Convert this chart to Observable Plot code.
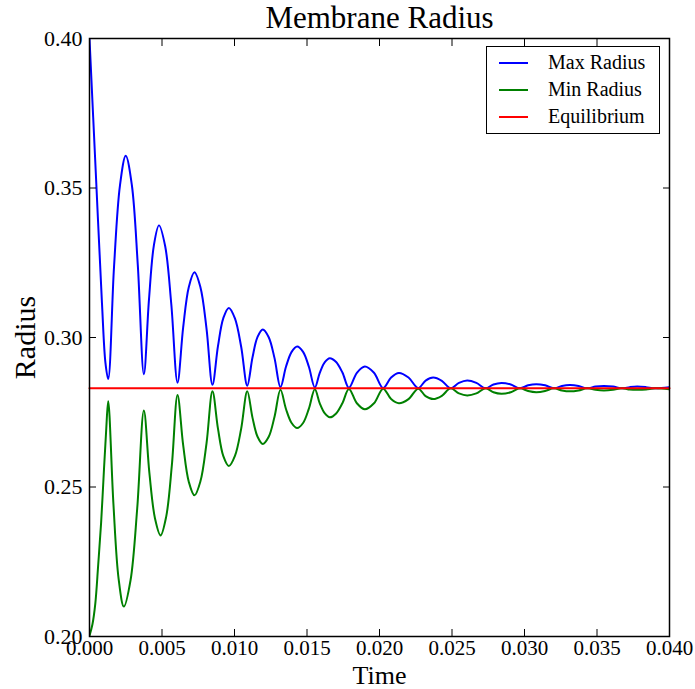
<!DOCTYPE html>
<html>
<head>
<meta charset="utf-8">
<script src="https://cdn.jsdelivr.net/npm/d3@7"></script>
<script src="https://cdn.jsdelivr.net/npm/@observablehq/plot@0.6"></script>
<style>
  body { margin: 0; background: #fff; }
  #chart { position: relative; width: 695px; height: 689px; }
  .legend { position: absolute; left: 486px; top: 46px; width: 172px; height: 84px; border: 1px solid #000; background: #fff;
    font-family: "Liberation Serif", "DejaVu Serif", serif; font-size: 20px; padding-top: 2px; box-sizing: content-box; }
  .legend .row { display: flex; align-items: center; height: 27px; }
  .legend .swatch { width: 29px; height: 2px; margin-left: 12px; margin-right: 20px; }
</style>
</head>
<body>
<div id="chart"></div>
<script>
const FONT = '"Liberation Serif", "DejaVu Serif", serif';
const title = "Membrane Radius";
const xLabel = "Time";
const yLabel = "Radius";
const seriesNames = ["Max Radius", "Min Radius", "Equilibrium"];
const seriesColors = ["#0000ff", "#008000", "#ff0000"];
const xTicks = [0, 0.005, 0.01, 0.015, 0.02, 0.025, 0.03, 0.035, 0.04];
const yTicks = [0.20, 0.25, 0.30, 0.35, 0.40];

// Max radius (time, radius)
const maxT = [0, 0.00043, 0.00086, 0.00110, 0.00129, 0.00169, 0.00210, 0.00250, 0.00292, 0.00333, 0.00375,
  0.00410, 0.00444, 0.00479, 0.00522, 0.00564, 0.00607,
  0.00646, 0.00685, 0.00724, 0.00765, 0.00807, 0.00848,
  0.00886, 0.00923, 0.00961, 0.01003, 0.01046, 0.01088,
  0.01124, 0.01159, 0.01195, 0.01236, 0.01276, 0.01317,
  0.01355, 0.01394, 0.01432, 0.01473, 0.01513, 0.01554,
  0.01588, 0.01623, 0.01657, 0.01701, 0.01745, 0.01789,
  0.01844, 0.01899, 0.01962, 0.02025,
  0.02080, 0.02134, 0.02200, 0.02267,
  0.02318, 0.02370, 0.02430, 0.02490,
  0.02548, 0.02605, 0.02668, 0.02731,
  0.02786, 0.02841, 0.02905, 0.02968,
  0.03025, 0.03081, 0.03142, 0.03202,
  0.03258, 0.03313, 0.03373, 0.03432,
  0.03490, 0.03547, 0.03610, 0.03674,
  0.03726, 0.03777, 0.03838, 0.03900,
  0.04000];
const maxR = [0.4000, 0.3555, 0.3115, 0.2915, 0.2861, 0.3235, 0.3508, 0.3608, 0.3510, 0.3243, 0.2877,
  0.3126, 0.3308, 0.3375, 0.3305, 0.3112, 0.2849,
  0.3034, 0.3169, 0.3218, 0.3168, 0.3030, 0.2842,
  0.2971, 0.3065, 0.3099, 0.3064, 0.2969, 0.2839,
  0.2933, 0.3002, 0.3027, 0.3001, 0.2931, 0.2834,
  0.2902, 0.2952, 0.2970, 0.2952, 0.2902, 0.2833,
  0.2882, 0.2918, 0.2931, 0.2918, 0.2882, 0.2832,
  0.2882, 0.2903, 0.2882, 0.2831,
  0.2866, 0.2881, 0.2866, 0.2831,
  0.2856, 0.2866, 0.2855, 0.2830,
  0.2848, 0.2856, 0.2848, 0.2830,
  0.2843, 0.2848, 0.2843, 0.2830,
  0.2840, 0.2844, 0.2840, 0.2830,
  0.2838, 0.2841, 0.2838, 0.2830,
  0.2836, 0.2838, 0.2836, 0.2830,
  0.2834, 0.2836, 0.2834, 0.2830,
  0.2834];

// Min radius (time, radius)
const minT = [0, 0.00020, 0.00040, 0.00060, 0.00080, 0.00100, 0.00115, 0.00129,
  0.00165, 0.00201, 0.00237, 0.00283, 0.00329, 0.00375,
  0.00413, 0.00452, 0.00490, 0.00529, 0.00568, 0.00607,
  0.00646, 0.00685, 0.00724, 0.00765, 0.00807, 0.00848,
  0.00886, 0.00923, 0.00961, 0.01003, 0.01046, 0.01088,
  0.01124, 0.01159, 0.01195, 0.01236, 0.01276, 0.01317,
  0.01355, 0.01394, 0.01432, 0.01473, 0.01513, 0.01554,
  0.01588, 0.01623, 0.01657, 0.01701, 0.01745, 0.01789,
  0.01844, 0.01899, 0.01962, 0.02025,
  0.02080, 0.02134, 0.02200, 0.02267,
  0.02318, 0.02370, 0.02430, 0.02490,
  0.02548, 0.02605, 0.02668, 0.02731,
  0.02786, 0.02841, 0.02905, 0.02968,
  0.03025, 0.03081, 0.03142, 0.03202,
  0.03258, 0.03313, 0.03373, 0.03432,
  0.03490, 0.03547, 0.03610, 0.03674,
  0.03726, 0.03777, 0.03838, 0.03900,
  0.04000];
const minR = [0.2003, 0.2040, 0.2110, 0.2240, 0.2380, 0.2560, 0.2690, 0.2787,
  0.2443, 0.2192, 0.2100, 0.2188, 0.2428, 0.2756,
  0.2547, 0.2394, 0.2338, 0.2401, 0.2573, 0.2808,
  0.2640, 0.2517, 0.2472, 0.2519, 0.2646, 0.2820,
  0.2695, 0.2603, 0.2570, 0.2604, 0.2695, 0.2820,
  0.2732, 0.2668, 0.2644, 0.2668, 0.2735, 0.2825,
  0.2761, 0.2714, 0.2697, 0.2714, 0.2762, 0.2827,
  0.2780, 0.2746, 0.2733, 0.2746, 0.2781, 0.2828,
  0.2780, 0.2760, 0.2780, 0.2829,
  0.2794, 0.2780, 0.2794, 0.2829,
  0.2804, 0.2794, 0.2805, 0.2830,
  0.2813, 0.2806, 0.2813, 0.2830,
  0.2817, 0.2812, 0.2817, 0.2830,
  0.2821, 0.2817, 0.2821, 0.2830,
  0.2823, 0.2820, 0.2823, 0.2830,
  0.2825, 0.2823, 0.2825, 0.2830,
  0.2826, 0.2825, 0.2826, 0.2830,
  0.2827];

// Equilibrium
const eqT = [0, 0.04];
const eqR = [0.283, 0.283];

const toRows = (ts, rs) => ts.map((t, i) => ({t, r: rs[i]}));
const maxData = toRows(maxT, maxR);
const minData = toRows(minT, minR);
const eqData = toRows(eqT, eqR);

const plot = Plot.plot({
  width: 695,
  height: 689,
  marginTop: 38,
  marginBottom: 53,
  marginLeft: 89,
  marginRight: 26,
  x: {domain: [0, 0.04]},
  y: {domain: [0.2, 0.4]},
  style: {fontFamily: FONT, fontSize: "22px", background: "white", color: "black"},
  marks: [
    Plot.line(maxData, {x: "t", y: "r", stroke: seriesColors[0], strokeWidth: 2, curve: "catmull-rom", clip: true}),
    Plot.line(minData, {x: "t", y: "r", stroke: seriesColors[1], strokeWidth: 2, curve: "catmull-rom", clip: true}),
    Plot.line(eqData, {x: "t", y: "r", stroke: seriesColors[2], strokeWidth: 2}),
    Plot.frame({stroke: "black", strokeWidth: 1.5}),
    Plot.axisX(xTicks, {anchor: "bottom", tickSize: -7, tickPadding: 11, tickFormat: d3.format(".3f"), label: null, fontSize: 21}),
    Plot.axisX(xTicks, {anchor: "top", tickSize: -7, tickFormat: () => "", label: null}),
    Plot.axisY(yTicks, {anchor: "left", tickSize: -7, tickPadding: 14, tickFormat: d3.format(".2f"), label: null, fontSize: 22}),
    Plot.axisY(yTicks, {anchor: "right", tickSize: -7, tickFormat: () => "", label: null}),
    Plot.text([title], {frameAnchor: "top", dy: -20, lineAnchor: "middle", textAnchor: "middle", fontSize: 31}),
    Plot.text([xLabel], {frameAnchor: "bottom", dy: 39, lineAnchor: "middle", textAnchor: "middle", fontSize: 26}),
    Plot.text([yLabel], {frameAnchor: "left", dx: -64, rotate: -90, lineAnchor: "middle", textAnchor: "middle", fontSize: 30})
  ]
});

const chart = document.getElementById("chart");
chart.appendChild(plot);

const legend = document.createElement("div");
legend.className = "legend";
seriesNames.forEach((name, i) => {
  const row = document.createElement("div");
  row.className = "row";
  const sw = document.createElement("span");
  sw.className = "swatch";
  sw.style.background = seriesColors[i];
  const label = document.createElement("span");
  label.textContent = name;
  row.appendChild(sw);
  row.appendChild(label);
  legend.appendChild(row);
});
chart.appendChild(legend);
</script>
</body>
</html>
